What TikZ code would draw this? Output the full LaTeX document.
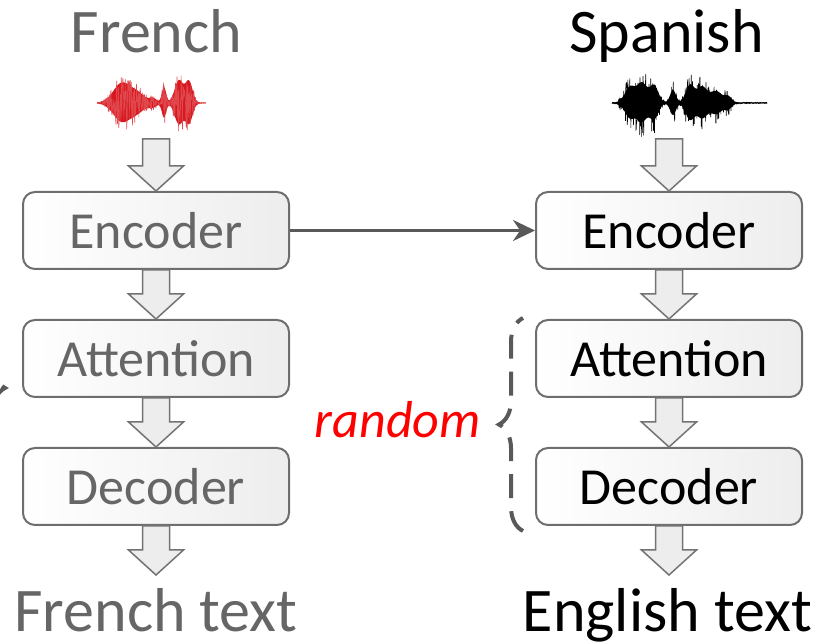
\documentclass[tikz,border=0pt]{standalone}
\usepackage{fontspec}
\setmainfont{Carlito}
\usepackage{tikz}
\usetikzlibrary{arrows.meta}
\usetikzlibrary{calc}
\usetikzlibrary{positioning}
\usetikzlibrary{decorations.pathreplacing}
\definecolor{txtgray}{HTML}{666666}
\definecolor{boxline}{HTML}{6E6E6E}
\definecolor{arrfill}{HTML}{EDEDED}
\definecolor{arrline}{HTML}{737373}
\definecolor{linkgray}{HTML}{595959}
\definecolor{wavred}{HTML}{D7191F}
\tikzset{
    block/.style = {draw=boxline,line width=2pt,rounded corners=12pt,left color=white,right color=black!7,
        minimum width=266pt,minimum height=77pt,inner sep=0,text height=36pt,text depth=0pt,
        font=\fontsize{52}{60}\selectfont},
    title/.style = {anchor=base,inner sep=0,font=\fontsize{62}{70}\selectfont},
    link/.style = {draw=linkgray,line width=3pt,-{Stealth[length=22pt,width=21pt]}},
    flow/.style = {draw=arrline,fill=arrfill,line width=1.5pt,
        to path={let \p1=(\tikztostart), \p2=(\tikztotarget) in
            (\x1-13.5pt,\y1) -- (\x1+13.5pt,\y1) -- (\x1+13.5pt,\y2+25pt) -- (\x1+27.5pt,\y2+25pt)
            -- (\x1,\y2) -- (\x1-27.5pt,\y2+25pt) -- (\x1-13.5pt,\y2+25pt) -- cycle}},
    bracket/.style = {draw=linkgray,line width=4pt,dash pattern=on 24pt off 13pt,
        decorate,decoration={brace,amplitude=24pt}},
    wave/.style = {line width=0.6pt,line join=round}
}

\begin{document}
\begin{tikzpicture}[x=1pt,y=1pt,
        declare function={
            bump(\vx,\vc,\vw,\vh)=\vh*exp(max(-9,-((\vx-\vc)/\vw)*((\vx-\vc)/\vw)));
            envR(\vx)=0.5+bump(\vx,122,12,28)+bump(\vx,138,10,12)+bump(\vx,153,5,6)
                +bump(\vx,164,3,22)+bump(\vx,179,6,32)+bump(\vx,189,5,30);
            envB(\vx)=0.8+bump(\vx,620,1.5,3)+bump(\vx,630,7,26)+bump(\vx,642,7,32)
                +bump(\vx,654,6,28)+bump(\vx,673,4,21)+bump(\vx,690,6,29)
                +bump(\vx,702,7,26)+bump(\vx,716,8,19)+bump(\vx,728,5,10);
        }]
        \useasboundingbox (0,0) rectangle (823,644);
        % Titles
        \node[title,txtgray] (frT) at (156.5,591) {French};
        \node[title] (spT) at (666.5,591) {Spanish};
        % Waveforms
        \pgfmathsetseed{7}
        \fill[wavred] plot[domain=97:206,samples=160] (\x,{541+0.7*envR(\x)})
            -- plot[domain=206:97,samples=160] (\x,{541-0.65*envR(\x)}) -- cycle;
        \draw[wave,wavred!80] plot[domain=97:206,samples=321] (\x,{541+envR(\x)*rand});
        \fill[black] plot[domain=612:767,samples=200] (\x,{541+0.6*envB(\x)})
            -- plot[domain=767:612,samples=200] (\x,{541-0.55*envB(\x)}) -- cycle;
        \draw[wave,black] plot[domain=612:767,samples=461] (\x,{541+envB(\x)*rand});
        % Blocks
        \node[block,text=txtgray] (encL) at (156,413.5) {Encoder};
        \node[block,text=txtgray] (attL) [below=49pt of encL] {Attention};
        \node[block,text=txtgray] (decL) [below=49pt of attL] {Decoder};
        \node[block] (encR) [right=245pt of encL] {Encoder};
        \node[block] (attR) [below=49pt of encR] {Attention};
        \node[block] (decR) [below=49pt of attR] {Decoder};
        % Outputs
        \node[title,txtgray] (frOut) at (156,12) {French text};
        \node[title] (enOut) at (667.5,12) {English text};
        % Arrow ends
        \coordinate (wavL) at ([yshift=52pt]encL.north);
        \coordinate (wavR) at ([yshift=52pt]encR.north);
        \coordinate (outL) at ([yshift=-49pt]decL.south);
        \coordinate (outR) at ([yshift=-49pt]decR.south);
        % Flow
        \foreach \src/\dest in {wavL/encL.north,encL.south/attL.north,attL.south/decL.north,decL.south/outL,
                wavR/encR.north,encR.south/attR.north,attR.south/decR.north,decR.south/outR}
            \draw[flow] (\src) to (\dest);
        % Transfer
        \draw[link] (encL) -- (encR);
        % Random part
        \coordinate (brkB) at (523,113);
        \coordinate (brkT) at (523,326);
        \draw[bracket] (brkB) -- (brkT);
        \node[anchor=base east,inner sep=0,text=red,font=\fontsize{52}{60}\selectfont\itshape]
            (rnd) at (481,206) {random};
        \coordinate (brkLT) at (-19,362);
        \coordinate (brkLB) at (-19,150);
        \draw[bracket] (brkLT) -- (brkLB);
\end{tikzpicture}
\end{document}
